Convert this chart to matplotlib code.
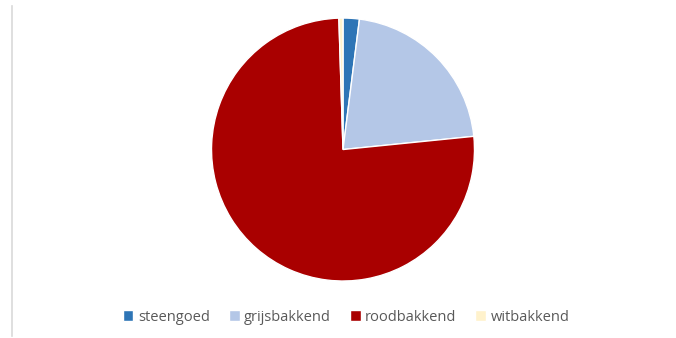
import matplotlib
matplotlib.use("Agg")
import matplotlib.pyplot as plt
from matplotlib.lines import Line2D

labels = ["steengoed", "grijsbakkend", "roodbakkend", "witbakkend"]
values = [2.0, 21.4, 76.1, 0.5]
colors = ["#2E75B6", "#B4C7E7", "#A90000", "#FFF2CC"]

plt.rcParams["font.family"] = ["Open Sans", "DejaVu Sans"]

fig = plt.figure(figsize=(6.76, 3.38), dpi=100)
ax = fig.add_axes([0.3129, 0.1686, 0.389, 0.778])
wedges, _ = ax.pie(values, colors=colors, startangle=90, counterclock=False,
                   wedgeprops=dict(edgecolor="white", linewidth=1.0))
ax.set_xlim(-1, 1)
ax.set_ylim(-1, 1)
ax.set_aspect("equal")

# thin grey border line at the left
fig.add_artist(Line2D([11.5 / 676, 11.5 / 676], [1 - 6 / 338, 1 - 336 / 338],
                      color="#d9d9d9", linewidth=1.2))

fig.legend(wedges, labels, loc="center", bbox_to_anchor=(0.512, 0.062), ncol=4,
           frameon=False, fontsize=10.5, handlelength=0.75, handleheight=0.75,
           handletextpad=0.3, columnspacing=1.3, labelcolor="#595959")

fig.savefig("out.png", dpi=100, facecolor="white")
